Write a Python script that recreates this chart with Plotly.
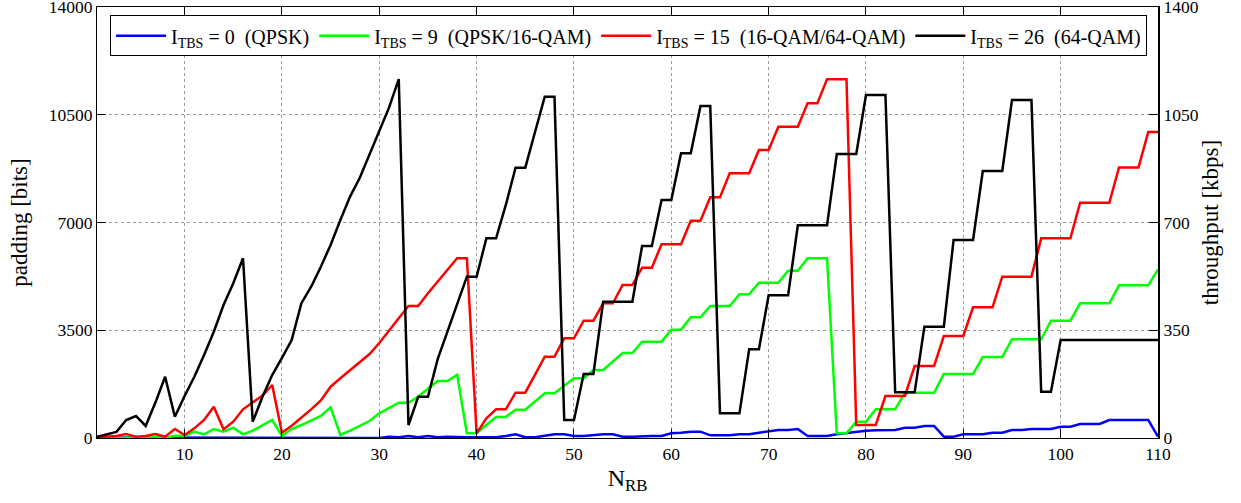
import plotly.graph_objects as go

n_rb = list(range(1, 111))

pad_itbs0 = [20]*28 + [0, 0,
    43, 22, 65, 22, 65, 22, 43, 22, 22, 22,
    22, 22, 65, 119, 22, 22, 76, 119, 119, 65,
    65, 97, 119, 119, 43, 43, 65, 65, 65, 152,
    173, 206, 206, 86, 86, 86, 119, 119, 173, 206,
    260, 260, 292, 65, 65, 65, 119, 160, 206, 238,
    250, 250, 260, 336, 336, 390, 390, 43, 43, 119,
    119, 119, 173, 173, 260, 260, 292, 292, 292, 368,
    368, 455, 455, 455, 585, 585, 585, 585, 585, 43]

pad_itbs9 = [0, 0, 0, 10, 0, 20, 30, 10, 76, 65,
    206, 119, 292, 206, 336, 119, 238, 422, 585, 65,
    292, 422, 563, 715, 996, 97, 238, 390, 552, 801,
    963, 1147, 1147, 1342, 1600, 1850, 1850, 2050, 152, 152,
    420, 680, 680, 920, 920, 1180, 1450, 1450, 1690, 1939,
    1939, 2210, 2210, 2490, 2760, 2760, 3130, 3130, 3130, 3520,
    3520, 3920, 3920, 4287, 4287, 4287, 4667, 4667, 5045, 5045,
    5045, 5435, 5435, 5837, 5837, 5837, 152, 152, 530, 530,
    932, 932, 932, 1471, 1471, 1471, 1471, 2079, 2079, 2079,
    2079, 2630, 2630, 2630, 3206, 3206, 3206, 3206, 3810, 3810,
    3810, 4374, 4374, 4374, 4374, 4959, 4959, 4959, 4959, 5478]

pad_itbs15 = [23, 40, 65, 130, 42, 65, 130, 42, 292, 97,
    314, 585, 1017, 282, 530, 932, 1150, 1380, 1721, 173,
    400, 660, 930, 1220, 1666, 1939, 2200, 2459, 2728, 3086,
    3470, 3888, 4287, 4287, 4700, 5077, 5457, 5837, 5837, 152,
    640, 932, 932, 1471, 1471, 2046, 2641, 2641, 3238, 3238,
    3810, 3810, 4374, 4374, 4969, 4969, 5532, 5532, 6291, 6291,
    6291, 7058, 7058, 7817, 7817, 8597, 8597, 8597, 9354, 9354,
    10111, 10111, 10111, 10870, 10870, 11650, 11650, 11650, 422, 422,
    422, 1364, 1364, 1364, 2339, 2339, 2339, 3313, 3313, 3313,
    4245, 4245, 4245, 5240, 5240, 5240, 5240, 6485, 6485, 6485,
    6485, 7643, 7643, 7643, 7643, 8790, 8790, 8790, 9939, 9939]

pad_itbs26 = [40, 130, 200, 585, 715, 390, 1150, 1990, 690, 1365,
    1990, 2695, 3453, 4320, 5025, 5837, 530, 1340, 2046, 2600,
    3183, 4380, 4915, 5565, 6270, 7080, 7840, 8455, 9224, 9971,
    10730, 11660, 422, 1340, 1340, 2560, 3440, 4345, 5240, 5240,
    6485, 6485, 7570, 8780, 8780, 9940, 11085, 11085, 585, 585,
    2079, 2079, 4428, 4428, 4428, 4428, 6236, 6236, 7730, 7730,
    9247, 9247, 10783, 10783, 801, 801, 801, 2880, 2880, 4634,
    4634, 4634, 6907, 6907, 6907, 6907, 9224, 9224, 9224, 11140,
    11140, 11140, 1484, 1484, 1484, 3615, 3615, 3615, 6431, 6431,
    6431, 8672, 8672, 8672, 10978, 10978, 10978, 1504, 1504, 3183,
    3183, 3183, 3183, 3183, 3183, 3183, 3183, 3183, 3183, 3183]

series_names = [
    "I<sub>TBS</sub> = 0  (QPSK)",
    "I<sub>TBS</sub> = 9  (QPSK/16-QAM)",
    "I<sub>TBS</sub> = 15  (16-QAM/64-QAM)",
    "I<sub>TBS</sub> = 26  (64-QAM)",
]
series_colors = ["#0000ff", "#00ff00", "#ff0000", "#000000"]
series_values = [pad_itbs0, pad_itbs9, pad_itbs15, pad_itbs26]

x_ticks = list(range(10, 111, 10))
y_ticks = [0, 3500, 7000, 10500, 14000]
y2_ticks = [0, 350, 700, 1050, 1400]

FONT = "Liberation Serif, Times New Roman, serif"
TICKFONT = dict(family=FONT, size=17.5, color="black")

fig = go.Figure()
for name, col, vals in zip(series_names, series_colors, series_values):
    fig.add_trace(go.Scatter(x=n_rb, y=vals, mode="lines", name=name,
                             line=dict(color=col, width=2.5)))

fig.add_trace(go.Scatter(x=[None], y=[None], yaxis="y2", showlegend=False,
                         hoverinfo="skip", mode="lines"))

axis_common = dict(showline=True, linecolor="black", linewidth=1,
                   ticks="inside", ticklen=9, tickcolor="black",
                   showgrid=True, gridcolor="#9a9a9a", griddash="dot", gridwidth=1,
                   zeroline=False, tickfont=TICKFONT, ticklabeloverflow="allow",
                   automargin=False)

fig.update_layout(
    width=1241, height=503,
    margin=dict(l=97, r=83, t=7, b=65, autoexpand=False),
    paper_bgcolor="white", plot_bgcolor="white",
    font=dict(family=FONT, color="black"),
    xaxis=dict(range=[1, 110], tickvals=x_ticks, mirror="ticks",
               title=dict(text="N<sub>RB</sub>", font=dict(family=FONT, size=24), standoff=6),
               **axis_common),
    yaxis=dict(range=[0, 14000], tickvals=y_ticks, tickformat="d", mirror=False,
               title=dict(text="padding [bits]", font=dict(family=FONT, size=23), standoff=14),
               **axis_common),
    yaxis2=dict(range=[0, 1400], tickvals=y2_ticks, tickformat="d", overlaying="y",
                side="right", showline=True, linecolor="black", linewidth=2,
                ticks="inside", ticklen=9, tickcolor="black", showgrid=False, zeroline=False,
                tickfont=TICKFONT, ticklabeloverflow="allow", automargin=False,
                title=dict(text="throughput [kbps]", font=dict(family=FONT, size=23), standoff=4)),
    legend=dict(orientation="h", x=0.501, xanchor="center", y=0.981, yanchor="top",
                bgcolor="white", bordercolor="black", borderwidth=1, itemwidth=50,
                font=dict(family=FONT, size=20, color="black")),
    showlegend=True,
)

fig.write_html("out.html")
